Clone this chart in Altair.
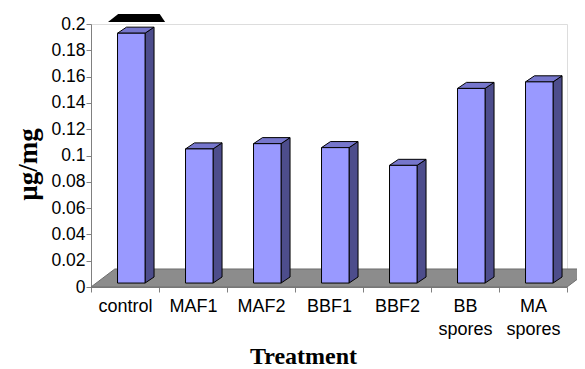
import altair as alt
import pandas as pd

# ---- data ----
categories = ["control", "MAF1", "MAF2", "BBF1", "BBF2", "BB spores", "MA spores"]
values = [0.190, 0.102, 0.106, 0.103, 0.0895, 0.148, 0.153]
y_ticks = [0, 0.02, 0.04, 0.06, 0.08, 0.1, 0.12, 0.14, 0.16, 0.18, 0.2]
cap_value = [0.2015, 0.2076]   # black cap drawn above the control bar

# ---- 3D geometry (in data units) ----
N = len(categories)
BASE = 0.003
L, R = 0.39, 0.795
DX, DY = 0.132, 0.0046
FLOOR_DY, FLOOR_DX = 0.0137, 0.35

front = pd.DataFrame({
    "bar": list(range(N)),
    "x": [i + L for i in range(N)],
    "x2": [i + R for i in range(N)],
    "y": [BASE] * N,
    "y2": [BASE + v for v in values],
})
side_rows, top_rows = [], []
for i, v in enumerate(values):
    side_rows.append({"bar": i, "x": i + R, "y": BASE + v, "y2": BASE})
    side_rows.append({"bar": i, "x": i + R + DX, "y": BASE + v + DY, "y2": BASE + DY})
    top_rows.append({"bar": i, "y": BASE + v, "x": i + L, "x2": i + R})
    top_rows.append({"bar": i, "y": BASE + v + DY, "x": i + L + DX, "x2": i + R + DX})
side = pd.DataFrame(side_rows)
top = pd.DataFrame(top_rows)
floor = pd.DataFrame({"y": [0, FLOOR_DY], "x": [0, FLOOR_DX], "x2": [N, N + FLOOR_DX]})
cap = pd.DataFrame({"y": cap_value, "x": [0.25, 0.40], "x2": [1.09, 1.01]})
axis_df = pd.DataFrame({"cat": categories, "v": values})

xq = alt.Scale(domain=[0, N], nice=False, zero=False)
ys = alt.Scale(domain=[0, 0.2], nice=False)

axis_layer = alt.Chart(axis_df).mark_tick(opacity=0).encode(
    x=alt.X("cat:N", sort=categories, scale=alt.Scale(paddingInner=0, paddingOuter=0),
            axis=alt.Axis(title="Treatment", labelAngle=0, tickBand="extent",
                          labelExpr="split(datum.label, ' ')",
                          labelFont="Liberation Sans", labelFontSize=18, labelColor="black",
                          labelPadding=5, labelLineHeight=23,
                          tickSize=5, tickColor="#808080", domainColor="#808080",
                          titleFont="Liberation Serif", titleFontSize=24, titleFontWeight="bold",
                          titleColor="black", titleX=212, titleY=76, titleAlign="center",
                          titleBaseline="alphabetic")),
    y=alt.Y("v:Q", scale=ys,
            axis=alt.Axis(title="µg/mg", values=y_ticks, format="~g", grid=False,
                          labelFont="Liberation Sans", labelFontSize=17.5, labelColor="black",
                          labelPadding=1, tickSize=5, tickColor="#808080", domainColor="#808080",
                          titleFont="Liberation Serif", titleFontSize=27, titleFontWeight="bold",
                          titleColor="black", titleX=-63, titleY=140, titleAngle=270,
                          titleAlign="center", titleBaseline="middle")),
)

floor_layer = alt.Chart(floor).mark_area(orient="horizontal", color="#8c8c8c",
                                         stroke="#6e6e6e", strokeWidth=1).encode(
    y=alt.Y("y:Q", scale=ys, axis=None),
    x=alt.X("x:Q", scale=xq, axis=None),
    x2="x2:Q",
)

side_layer = alt.Chart(side).mark_area(color="#4d4d8c", stroke="black", strokeWidth=1).encode(
    x=alt.X("x:Q", scale=xq, axis=None),
    y=alt.Y("y:Q", scale=ys, axis=None),
    y2="y2:Q",
    detail="bar:N",
)

top_layer = alt.Chart(top).mark_area(orient="horizontal", color="#7676cc",
                                     stroke="black", strokeWidth=1).encode(
    y=alt.Y("y:Q", scale=ys, axis=None),
    x=alt.X("x:Q", scale=xq, axis=None),
    x2="x2:Q",
    detail="bar:N",
)

front_layer = alt.Chart(front).mark_rect(color="#9999ff", stroke="black", strokeWidth=1).encode(
    x=alt.X("x:Q", scale=xq, axis=None),
    x2="x2:Q",
    y=alt.Y("y:Q", scale=ys, axis=None),
    y2="y2:Q",
)

cap_layer = alt.Chart(cap).mark_area(orient="horizontal", color="black").encode(
    y=alt.Y("y:Q", scale=ys, axis=None),
    x=alt.X("x:Q", scale=xq, axis=None),
    x2="x2:Q",
)

chart = alt.layer(
    axis_layer, floor_layer, side_layer, top_layer, front_layer, cap_layer
).resolve_scale(x="independent").resolve_axis(y="independent").properties(
    width=476, height=263,
    autosize=alt.AutoSizeParams(type="none"),
    padding={"left": 83, "top": 16, "right": 10, "bottom": 80},
).configure_view(stroke=None).configure(background="white")

chart.save("out.html", embed_options={"renderer": "svg", "actions": False})
